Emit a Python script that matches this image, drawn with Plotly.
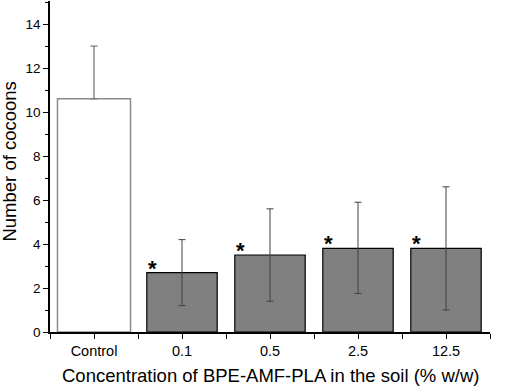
import plotly.graph_objects as go

categories = ["Control", "0.1", "0.5", "2.5", "12.5"]
means = [10.6, 2.7, 3.5, 3.8, 3.8]
err_plus = [2.4, 1.5, 2.1, 2.1, 2.8]
err_minus = [0.0, 1.5, 2.1, 2.05, 2.8]
significant = [False, True, True, True, True]

xs = list(range(len(categories)))
font = "Liberation Sans, Arial, sans-serif"

fig = go.Figure()
fig.add_trace(go.Bar(
    x=xs[:1], y=means[:1], width=0.83,
    marker=dict(color="white", line=dict(color="#8c8c8c", width=1.5)),
    error_y=dict(type="data", symmetric=False, array=err_plus[:1], arrayminus=err_minus[:1],
                 color="#7a7a7a", thickness=1.3, width=3.5),
    showlegend=False,
))
fig.add_trace(go.Bar(
    x=xs[1:], y=means[1:], width=0.8,
    marker=dict(color="#808080", line=dict(color="black", width=1.2)),
    error_y=dict(type="data", symmetric=False, array=err_plus[1:], arrayminus=err_minus[1:],
                 color="#404040", thickness=1, width=3.5),
    showlegend=False,
))

for i, s in enumerate(significant):
    if s:
        fig.add_annotation(x=i - 0.34, y=means[i], text="<b>*</b>", showarrow=False,
                           yanchor="bottom", yshift=-10,
                           font=dict(family=font, size=22, color="black"))

fig.add_annotation(text="Concentration of BPE-AMF-PLA in the soil (% w/w)",
                   xref="paper", yref="paper", x=0.5, y=-0.13, xanchor="center", yanchor="middle",
                   showarrow=False, font=dict(family=font, size=18.5, color="black"))
fig.add_annotation(text="Number of cocoons", textangle=-90,
                   xref="paper", yref="paper", x=-0.0909, y=0.515, xanchor="center", yanchor="middle",
                   showarrow=False, font=dict(family=font, size=18.5, color="black"))

fig.update_layout(
    width=505, height=389,
    margin=dict(l=50, r=15, t=1, b=57),
    plot_bgcolor="white", paper_bgcolor="white",
    barmode="overlay",
    font=dict(family=font, color="black"),
    xaxis=dict(
        range=[-0.5, 4.5], tickvals=xs, ticktext=categories, automargin=False,
        showline=True, linecolor="black", linewidth=1.5,
        ticks="outside", ticklen=5, tickwidth=1.2, tickcolor="black",
        minor=dict(tick0=-0.5, dtick=1, ticks="outside", ticklen=5, tickwidth=1.2, tickcolor="black"),
        showgrid=False, zeroline=False,
        tickfont=dict(size=14.5),
    ),
    yaxis=dict(
        range=[0, 15.05], tick0=0, dtick=2, automargin=False,
        showline=True, linecolor="black", linewidth=1.5,
        ticks="outside", ticklen=5, tickwidth=1.2, tickcolor="black",
        minor=dict(dtick=1, ticks="outside", ticklen=3, tickwidth=1.2, tickcolor="black"),
        showgrid=False, zeroline=False,
        tickfont=dict(size=13.5),
    ),
)

fig.write_html("out.html", config={"displayModeBar": False},
               post_script="document.body.style.margin='0px';document.body.style.overflow='hidden';")
